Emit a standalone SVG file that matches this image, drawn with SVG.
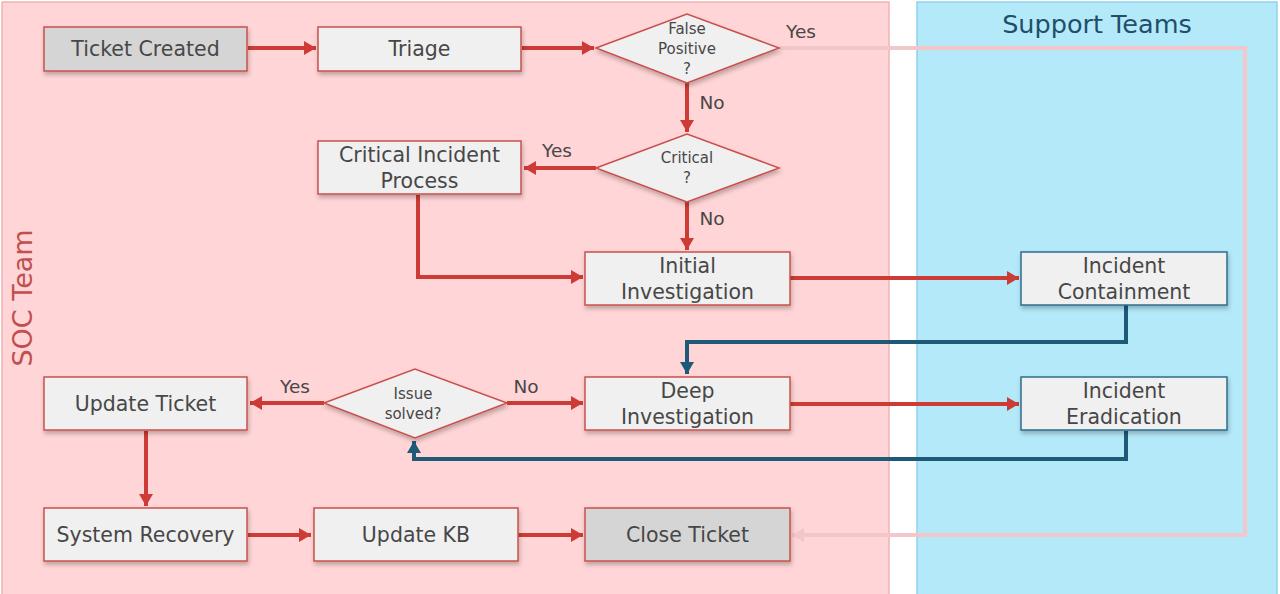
<svg xmlns="http://www.w3.org/2000/svg" width="1280" height="594" viewBox="0 0 1280 594">
<style>
.box{fill:#f0f0f0;stroke:#c9504c;stroke-width:1.5}
.gray{fill:#d5d5d5;stroke:#c9504c;stroke-width:1.5}
.blue{fill:#f0f0f0;stroke:#2f6c8c;stroke-width:1.5}
.dia{fill:#f0f0f0;stroke:#c9504c;stroke-width:1.5}
.t{font-family:"DejaVu Sans","Liberation Sans",sans-serif;font-size:20.5px;fill:#474747;text-anchor:middle}
.s{font-family:"DejaVu Sans","Liberation Sans",sans-serif;font-size:15px;fill:#474747;text-anchor:middle}
.l{font-family:"DejaVu Sans","Liberation Sans",sans-serif;font-size:18.5px;fill:#474747;text-anchor:middle}
.red{fill:none;stroke:#cc3b35;stroke-width:4}
.blu{fill:none;stroke:#1e5a78;stroke-width:4}
.pink{fill:none;stroke:#f3c7c9;stroke-width:4}
</style>
<defs>
<marker id="ar" markerUnits="userSpaceOnUse" markerWidth="14" markerHeight="16" refX="12" refY="8" orient="auto"><path d="M0,1 L12,8 L0,15 Z" fill="#cc3b35"/></marker>
<marker id="ab" markerUnits="userSpaceOnUse" markerWidth="14" markerHeight="16" refX="12" refY="8" orient="auto"><path d="M0,1 L12,8 L0,15 Z" fill="#1e5a78"/></marker>
<marker id="ap" markerUnits="userSpaceOnUse" markerWidth="14" markerHeight="16" refX="12" refY="8" orient="auto"><path d="M0,1 L12,8 L0,15 Z" fill="#f3c7c9"/></marker>
<filter id="sh" x="-10%" y="-10%" width="130%" height="140%"><feDropShadow dx="1" dy="3" stdDeviation="2" flood-color="#000" flood-opacity="0.25"/></filter>
</defs>
<rect width="1280" height="594" fill="#ffffff"/>
<g id="lane-soc">
<rect x="2" y="2" width="887" height="600" fill="#ffd5d7" stroke="#f0b3b6" stroke-width="1.5"/>
<text x="22" y="298" transform="rotate(-90 22 298)" font-family="DejaVu Sans,Liberation Sans,sans-serif" font-size="27" fill="#c0504d" text-anchor="middle" dominant-baseline="central">SOC Team</text>
</g>
<g id="lane-support">
<rect x="917" y="2" width="360" height="600" fill="#b4e9fa" stroke="#8fd3ea" stroke-width="1.5"/>
<text x="1097" y="33" font-family="DejaVu Sans,Liberation Sans,sans-serif" font-size="25.5" fill="#1f4f6a" text-anchor="middle">Support Teams</text>
</g>
<g id="connectors">
<path class="pink" d="M779,48 H1245 V535 H792" marker-end="url(#ap)"/>
<path class="red" d="M248,48 H316" marker-end="url(#ar)"/>
<path class="red" d="M522,48 H594" marker-end="url(#ar)"/>
<path class="red" d="M687,83 V132" marker-end="url(#ar)"/>
<path class="red" d="M596,168 H524" marker-end="url(#ar)"/>
<path class="red" d="M687,202 V250" marker-end="url(#ar)"/>
<path class="red" d="M418,195 V277 H583" marker-end="url(#ar)"/>
<path class="red" d="M790,278 H1019" marker-end="url(#ar)"/>
<path class="blu" d="M1126,305 V342 H687 V374" marker-end="url(#ab)"/>
<path class="red" d="M790,404 H1019" marker-end="url(#ar)"/>
<path class="blu" d="M1126,431 V459 H414 V441" marker-end="url(#ab)"/>
<path class="red" d="M507,403 H583" marker-end="url(#ar)"/>
<path class="red" d="M324,403 H250" marker-end="url(#ar)"/>
<path class="red" d="M146,431 V506" marker-end="url(#ar)"/>
<path class="red" d="M248,535 H311" marker-end="url(#ar)"/>
<path class="red" d="M518,535 H583" marker-end="url(#ar)"/>
<text class="l" x="801" y="38">Yes</text>
<text class="l" x="712" y="109">No</text>
<text class="l" x="557" y="157">Yes</text>
<text class="l" x="712" y="225">No</text>
<text class="l" x="526" y="393">No</text>
<text class="l" x="295" y="393">Yes</text>
</g>
<g id="ticket-created"><rect class="gray" x="44" y="27" width="203" height="44" filter="url(#sh)"/><text class="t" x="145.5" y="56">Ticket Created</text></g>
<g id="triage"><rect class="box" x="318" y="27" width="203" height="44" filter="url(#sh)"/><text class="t" x="419.5" y="56">Triage</text></g>
<g id="false-positive"><polygon class="dia" points="596,48 687,14 779,48 687,83" filter="url(#sh)"/><text class="s" x="687" y="34">False</text><text class="s" x="687" y="54">Positive</text><text class="s" x="687" y="74">?</text></g>
<g id="critical"><polygon class="dia" points="596,168 687,134 779,168 687,202" filter="url(#sh)"/><text class="s" x="687" y="163">Critical</text><text class="s" x="687" y="183">?</text></g>
<g id="critical-incident-process"><rect class="box" x="318" y="141" width="203" height="53" filter="url(#sh)"/><text class="t" x="419.5" y="162">Critical Incident</text><text class="t" x="419.5" y="188">Process</text></g>
<g id="initial-investigation"><rect class="box" x="585" y="252" width="205" height="53" filter="url(#sh)"/><text class="t" x="687.5" y="273">Initial</text><text class="t" x="687.5" y="299">Investigation</text></g>
<g id="incident-containment"><rect class="blue" x="1021" y="252" width="206" height="53" filter="url(#sh)"/><text class="t" x="1124" y="273">Incident</text><text class="t" x="1124" y="299">Containment</text></g>
<g id="deep-investigation"><rect class="box" x="585" y="377" width="205" height="53" filter="url(#sh)"/><text class="t" x="687.5" y="398">Deep</text><text class="t" x="687.5" y="424">Investigation</text></g>
<g id="incident-eradication"><rect class="blue" x="1021" y="377" width="206" height="53" filter="url(#sh)"/><text class="t" x="1124" y="398">Incident</text><text class="t" x="1124" y="424">Eradication</text></g>
<g id="issue-solved"><polygon class="dia" points="324,403 415,369 507,403 415,438" filter="url(#sh)"/><text class="s" x="413" y="399">Issue</text><text class="s" x="413" y="419">solved?</text></g>
<g id="update-ticket"><rect class="box" x="44" y="377" width="203" height="53" filter="url(#sh)"/><text class="t" x="145.5" y="411">Update Ticket</text></g>
<g id="system-recovery"><rect class="box" x="44" y="508" width="203" height="53" filter="url(#sh)"/><text class="t" x="145.5" y="542">System Recovery</text></g>
<g id="update-kb"><rect class="box" x="314" y="508" width="204" height="53" filter="url(#sh)"/><text class="t" x="416" y="542">Update KB</text></g>
<g id="close-ticket"><rect class="gray" x="585" y="508" width="205" height="53" filter="url(#sh)"/><text class="t" x="687.5" y="542">Close Ticket</text></g>
</svg>
